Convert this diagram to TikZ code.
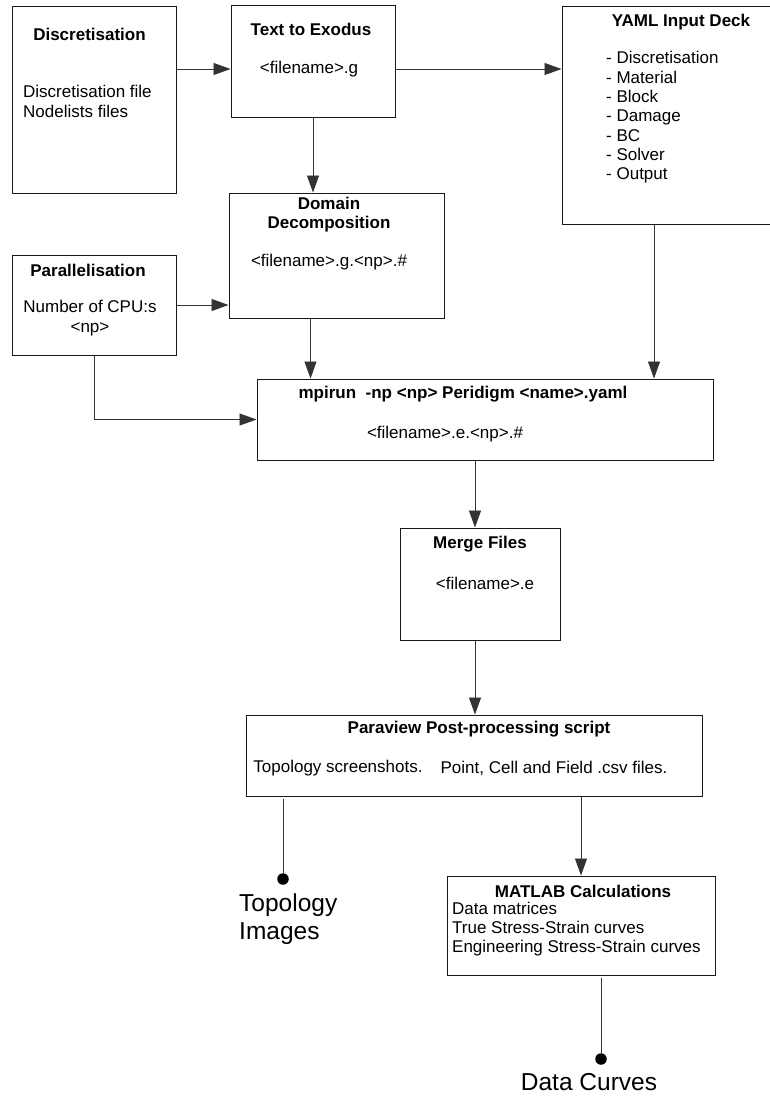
\documentclass[tikz,border=0pt]{standalone}
\usepackage{fontspec}
\setmainfont{Liberation Sans}
\usetikzlibrary{arrows.meta}

\begin{document}
\begin{tikzpicture}[x=1pt, y=-1pt, >={Triangle[length=17pt, width=12pt]},
    box/.style={draw=black!90, line width=1pt, rectangle},
    txt/.style={inner sep=0pt, font=\fontsize{17}{19.3}\selectfont, align=left},
    head/.style={inner sep=0pt, font=\fontsize{17}{19.3}\selectfont\bfseries, align=center},
    big/.style={inner sep=0pt, font=\fontsize{24.5}{28}\selectfont, align=left},
    link/.style={draw=black!80, line width=0.9pt},
    dot/.style={circle, fill=black, inner sep=0pt, minimum size=11.5pt}]
    \useasboundingbox (0,0) rectangle (770,1097);

    \node[box, minimum width=164pt, minimum height=186pt] (disc) at (94,100) {};
    \node[head] (discT) at (89.5,34) {Discretisation};
    \node[txt, anchor=west] (discB) at (23,101.5) {Discretisation file\\Nodelists files};

    \node[box, minimum width=164pt, minimum height=112pt] (t2e) at (313,62) {};
    \node[head] (t2eT) at (311,29) {Text to Exodus};
    \node[txt] (t2efile) at (309,69) {<filename>.g};

    \node[box, minimum width=238pt, minimum height=217pt] (yaml) at (681,115.5) {};
    \node[head] (yamlT) at (681,22) {YAML Input Deck};
    \node[txt, anchor=west] (yamlB) at (606,117.5) {- Discretisation\\
        - Material\\
        - Block\\
        - Damage\\
        - BC\\
        - Solver\\
        - Output};

    \node[box, minimum width=215pt, minimum height=125pt] (domain) at (336.5,255.5) {};
    \node[head] (domainT) at (329,214.5) {Domain\\Decomposition};
    \node[txt] (domainfile) at (329,262) {<filename>.g.<np>.\#};

    \node[box, minimum width=164pt, minimum height=100pt] (par) at (94,305) {};
    \node[head] (parT) at (88,270) {Parallelisation};
    \node[txt, align=center] (parB) at (90,318) {Number of CPU:s\\<np>};

    \node[box, minimum width=456pt, minimum height=81pt] (mpirun) at (485,419.5) {};
    \node[head] (mpirunT) at (463,394) {mpirun\ \ -np <np> Peridigm <name>.yaml};
    \node[txt] (mpirunfile) at (445,434) {<filename>.e.<np>.\#};

    \node[box, minimum width=160pt, minimum height=112pt] (merge) at (480,584) {};
    \node[head] (mergeT) at (480,544) {Merge Files};
    \node[txt] (mergefile) at (485,583) {<filename>.e};

    \node[box, minimum width=456pt, minimum height=81pt] (para) at (474,755.5) {};
    \node[head] (paraT) at (479,729) {Paraview Post-processing script};
    \node[txt] (paraA) at (338,768) {Topology screenshots.};
    \node[txt] (paraB) at (554,768) {Point, Cell and Field .csv files.};

    \node[box, minimum width=268pt, minimum height=99pt] (matlab) at (581,925.5) {};
    \node[head] (matlabT) at (583,891) {MATLAB Calculations};
    \node[txt, anchor=west] (matlabB) at (452,929) {Data matrices\\
        True Stress-Strain curves\\
        Engineering Stress-Strain curves};

    \node[dot] (topodot) at (283,879) {};
    \node[big, anchor=west] (topoimg) at (239,919) {Topology\\Images};

    \node[dot] (datadot) at (601,1059) {};
    \node[big] (datacurves) at (589,1082) {Data Curves};

    \draw[link, ->] (disc.east |- t2efile) -- (t2e.west |- t2efile);
    \draw[link, ->] (t2e.east |- t2efile) -- (yaml.west |- t2efile);
    \draw[link, ->] (t2e.south) -- (t2e.south |- domain.north);
    \draw[link, ->] (par.east) -- (par.east -| domain.west);
    \draw[link, ->] ([xshift=-26pt]domain.south) -- ([xshift=-26pt]domain.south |- mpirun.north);
    \draw[link, ->] ([xshift=-27pt]yaml.south) -- ([xshift=-27pt]yaml.south |- mpirun.north);
    \draw[link, ->] (par.south) |- (mpirun.west);
    \draw[link, ->] ([xshift=-5pt]merge.north |- mpirun.south) -- ([xshift=-5pt]merge.north);
    \draw[link, ->] ([xshift=-5pt]merge.south) -- ([xshift=-5pt]merge.south |- para.north);
    \draw[link, ->] (matlab.north |- para.south) -- (matlab.north);
    \draw[link, shorten <=2pt] (para.south -| topodot) -- (topodot);
    \draw[link, shorten <=2pt] (matlab.south -| datadot) -- (datadot);
\end{tikzpicture}
\end{document}
